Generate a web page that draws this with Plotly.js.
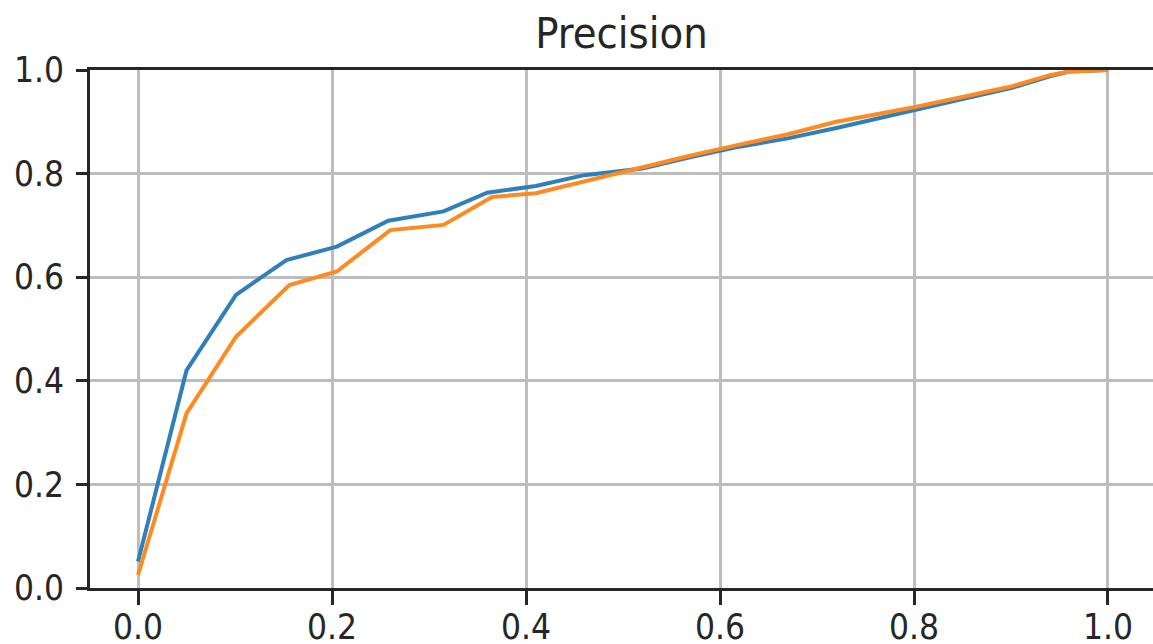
<!DOCTYPE html>
<html>
<head>
<meta charset="utf-8">
<script src="https://cdn.plot.ly/plotly-3.0.1.min.js"></script>
<style>html,body{margin:0;padding:0;background:#fff;}#chart{width:1153px;height:644px;}</style>
</head>
<body>
<div id="chart"></div>
<script>
// Data
const blueX = [0.000, 0.050, 0.101, 0.153, 0.205, 0.258, 0.315, 0.360, 0.410, 0.460, 0.520, 0.570, 0.620, 0.670, 0.720, 0.770, 0.800, 0.850, 0.900, 0.940, 0.960, 1.000];
const blueY = [0.051, 0.420, 0.566, 0.633, 0.659, 0.709, 0.727, 0.763, 0.776, 0.797, 0.810, 0.832, 0.852, 0.868, 0.888, 0.910, 0.922, 0.944, 0.965, 0.988, 0.997, 1.000];
const orangeX = [0.000, 0.050, 0.101, 0.156, 0.205, 0.260, 0.315, 0.365, 0.410, 0.460, 0.520, 0.570, 0.620, 0.670, 0.720, 0.770, 0.800, 0.850, 0.900, 0.940, 0.960, 1.000];
const orangeY = [0.025, 0.337, 0.485, 0.585, 0.611, 0.691, 0.701, 0.755, 0.762, 0.785, 0.812, 0.835, 0.856, 0.876, 0.900, 0.918, 0.928, 0.948, 0.968, 0.990, 0.997, 1.000];
const xTicks = [0.0, 0.2, 0.4, 0.6, 0.8, 1.0];
const yTicks = [0.0, 0.2, 0.4, 0.6, 0.8, 1.0];
const titleText = "Precision";

const traces = [
  {x: blueX, y: blueY, type: 'scatter', mode: 'lines', line: {color: '#2f7fbb', width: 4}, cliponaxis: false, hoverinfo: 'skip'},
  {x: orangeX, y: orangeY, type: 'scatter', mode: 'lines', line: {color: '#ff8a22', width: 4}, cliponaxis: false, hoverinfo: 'skip'}
];

const fam = "'DejaVu Sans Condensed', 'DejaVu Sans', sans-serif";
const tickFont = {family: fam, size: 35, color: '#262626'};
const layout = {
  width: 1153, height: 644,
  margin: {l: 90, r: 0, t: 70, b: 56, pad: 0},
  paper_bgcolor: '#ffffff', plot_bgcolor: '#ffffff',
  showlegend: false,
  title: {text: titleText, font: {family: fam, size: 43, color: '#262626'},
          x: 0.5, xref: 'paper', xanchor: 'center', y: 1 - 33/644, yref: 'container', yanchor: 'middle'},
  xaxis: {range: [-0.0495, 1.0464], tickvals: xTicks, ticktext: xTicks.map(v => v.toFixed(1)),
          showgrid: true, gridcolor: '#bdbdbd', gridwidth: 3, zeroline: false,
          showline: true, linecolor: '#262626', linewidth: 3, mirror: true,
          ticks: 'outside', ticklen: 14, tickwidth: 3, tickcolor: '#262626',
          tickfont: tickFont, ticklabelstandoff: -8},
  yaxis: {range: [0, 1], tickvals: yTicks, ticktext: yTicks.map(v => v.toFixed(1)),
          showgrid: true, gridcolor: '#bdbdbd', gridwidth: 3, zeroline: false,
          showline: true, linecolor: '#262626', linewidth: 3, mirror: false,
          ticks: 'outside', ticklen: 11, tickwidth: 3, tickcolor: '#262626',
          tickfont: tickFont, ticklabelstandoff: 5}
};

Plotly.newPlot('chart', traces, layout, {displayModeBar: false, staticPlot: true});
</script>
</body>
</html>
